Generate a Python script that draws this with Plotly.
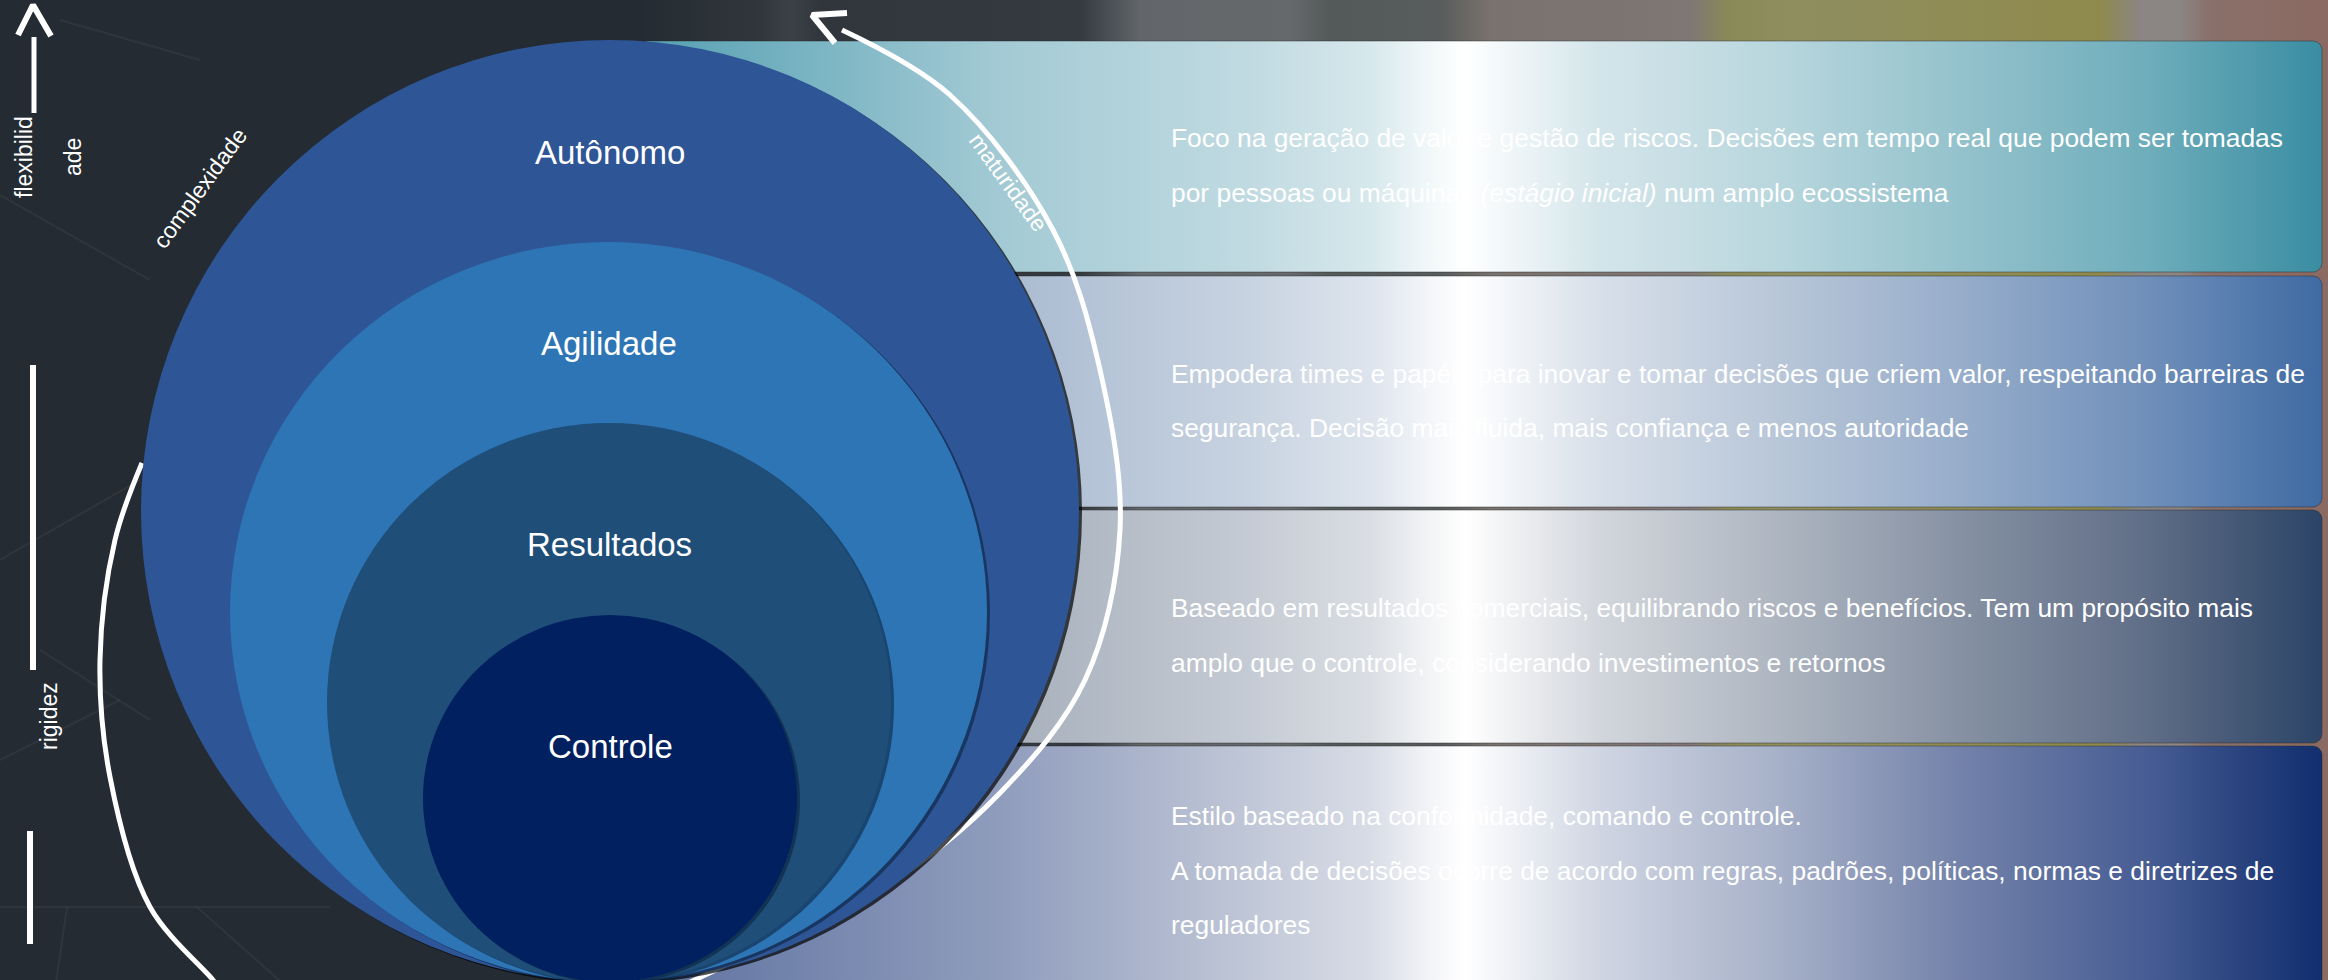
import plotly.graph_objects as go
import numpy as np

W, H = 2328, 980
FONT = "Liberation Sans, Arial, sans-serif"

# ---- data -------------------------------------------------------------
levels = ["Autônomo", "Agilidade", "Resultados", "Controle"]
level_colors = ["#2e5596", "#2e75b5", "#1f4e79", "#002060"]
ell_x0 = [141, 230, 327, 423]
ell_x1 = [1079, 987, 891, 797]
ell_y0 = [40, 242, 423, 615]
ell_y1 = [982, 982, 982, 982]
label_y = [152, 343, 544, 746]

panel_lines = [
    ["Foco na geração de valor e gestão de riscos. Decisões em tempo real que podem ser tomadas",
     "por pessoas ou máquinas <i>(estágio inicial)</i> num amplo ecossistema"],
    ["Empodera times e papéis para inovar e tomar decisões que criem valor, respeitando barreiras de",
     "segurança. Decisão mais fluida, mais confiança e menos autoridade"],
    ["Baseado em resultados comerciais, equilibrando riscos e benefícios. Tem um propósito mais",
     "amplo que o controle, considerando investimentos e retornos"],
    ["Estilo baseado na conformidade, comando e controle.",
     "A tomada de decisões ocorre de acordo com regras, padrões, políticas, normas e diretrizes de",
     "reguladores"],
]
panel_line_y = [[138, 193], [374, 428], [608, 663], [816, 871, 925]]
panel_y0 = [41, 276, 510, 746]
panel_y1 = [272, 507, 743, 995]
panel_x0, panel_x1 = 640, 2322
panel_grad = [
    [(640, "#55a0b3"), (1000, "#a3cad4"), (1250, "#c0dae1"), (1370, "#d6e8ec"), (1430, "#f2f8f9"),
     (1465, "#ffffff"), (1510, "#f0f6f8"), (1600, "#d3e5ea"), (1780, "#b8d6dd"), (1960, "#94c2cc"),
     (2150, "#6eadbb"), (2322, "#3a8da2")],
    [(640, "#8fa6c6"), (1000, "#a9bad0"), (1250, "#c8d3e1"), (1370, "#dde4ed"), (1430, "#f4f6f9"),
     (1465, "#ffffff"), (1510, "#f2f5f8"), (1600, "#d7dfe9"), (1780, "#b8c6d8"), (1960, "#97adca"),
     (2150, "#6f8fba"), (2322, "#3f6aa3")],
    [(640, "#8d97a6"), (1000, "#a6afbb"), (1250, "#c5cbd4"), (1370, "#dadee3"), (1430, "#f3f4f6"),
     (1465, "#ffffff"), (1510, "#f0f1f3"), (1600, "#d2d6dc"), (1780, "#adb5c0"), (1960, "#8691a3"),
     (2150, "#5f6d86"), (2322, "#2b4467")],
    [(640, "#5e72a0"), (1000, "#8f9cbc"), (1250, "#c0c7d7"), (1370, "#d8dce6"), (1430, "#f3f4f7"),
     (1465, "#ffffff"), (1510, "#eff1f5"), (1600, "#cfd5e2"), (1780, "#a6b0c8"), (1960, "#7382aa"),
     (2150, "#465c93"), (2322, "#112e6e")],
]
bg_grad = [(640, "#242b32"), (760, "#30363c"), (790, "#3c4146"), (820, "#30363c"), (1080, "#343a40"),
           (1140, "#62666a"), (1290, "#66696b"), (1330, "#545959"), (1440, "#585c5c"), (1490, "#79726d"),
           (1690, "#7f7675"), (1730, "#898a56"), (1790, "#8f8e60"), (2100, "#8f8a4c"), (2140, "#8b8583"),
           (2180, "#8b8583"), (2210, "#8a706a"), (2328, "#8a6a62")]

side_texts = [  # text, x, y, angle, size
    ("flexibilid", 24, 157, -90, 23),
    ("ade", 73, 157, -90, 23),
    ("complexidade", 200, 188, -54, 23),
    ("maturidade", 1008, 182, 54, 23),
    ("rigidez", 49, 716, -90, 23),
]
right_arc_x = [842, 950, 1053, 1100, 1120, 1085, 1000, 880, 757, 705, 670]
right_arc_y = [30, 95, 230, 370, 530, 680, 793, 890, 950, 975, 992]
left_arc_x = [142, 115, 100, 110, 150, 213, 222]
left_arc_y = [463, 540, 660, 777, 907, 980, 992]

# ---- helpers ----------------------------------------------------------
def rrect(x0, y0, x1, y1, r=9, n=8):
    xs, ys = [], []
    corners = [(x1 - r, y0 + r, -90), (x1 - r, y1 - r, 0), (x0 + r, y1 - r, 90), (x0 + r, y0 + r, 180)]
    for cx, cy, a0 in corners:
        for t in np.linspace(a0, a0 + 90, n):
            xs.append(cx + r * np.cos(np.radians(t)))
            ys.append(cy + r * np.sin(np.radians(t)))
    xs.append(xs[0]); ys.append(ys[0])
    return xs, ys


def scale(stops, a, b):
    return [[(x - a) / (b - a), c] for x, c in stops]


fig = go.Figure()

# background gradient behind panels
fig.add_trace(go.Scatter(x=[640, W, W, 640, 640], y=[0, 0, 1000, 1000, 0], mode="lines",
                         fill="toself", line=dict(width=0),
                         fillgradient=dict(type="horizontal", colorscale=scale(bg_grad, 640, W),
                                           start=640, stop=W),
                         hoverinfo="skip", showlegend=False))

# panels
for i in range(4):
    xs, ys = rrect(panel_x0, panel_y0[i], panel_x1, panel_y1[i])
    fig.add_trace(go.Scatter(x=xs, y=ys, mode="lines", fill="toself",
                             line=dict(width=1, color="rgba(40,40,40,0.45)"),
                             fillgradient=dict(type="horizontal",
                                               colorscale=scale(panel_grad[i], panel_x0, panel_x1),
                                               start=panel_x0, stop=panel_x1),
                             hoverinfo="skip", showlegend=False))

# white arcs
for ax, ay in [(left_arc_x, left_arc_y), (right_arc_x, right_arc_y)]:
    fig.add_trace(go.Scatter(x=ax, y=ay, mode="lines", line=dict(color="white", width=5, shape="spline",
                                                                  smoothing=1.0),
                             hoverinfo="skip", showlegend=False))
# arrow heads and bars
for xs, ys, w in [([847, 812, 835], [13, 15, 43], 6),
                  ([18, 33, 51], [35, 5, 36], 6),
                  ([34, 34], [37, 113], 5),
                  ([33, 33], [365, 670], 6),
                  ([30, 30], [831, 944], 6)]:
    fig.add_trace(go.Scatter(x=xs, y=ys, mode="lines", line=dict(color="white", width=w),
                             hoverinfo="skip", showlegend=False))

shapes = []
# faint network lines on the dark background
for x0, y0, x1, y1 in [(0, 195, 150, 280), (0, 907, 330, 907), (67, 907, 55, 990), (197, 907, 290, 990),
                       (0, 560, 140, 480), (40, 650, 150, 720), (60, 20, 200, 60), (0, 760, 120, 700)]:
    shapes.append(dict(type="line", xref="x", yref="y", x0=x0, y0=y0, x1=x1, y1=y1, layer="below",
                       line=dict(color="rgba(255,255,255,0.05)", width=2)))

# ellipses with soft shadow
for i in range(4):
    shapes.append(dict(type="circle", xref="x", yref="y", layer="above",
                       x0=ell_x0[i] + 3, x1=ell_x1[i] + 3, y0=ell_y0[i] + 2, y1=ell_y1[i] + 2,
                       fillcolor="rgba(0,0,0,0.7)" if i == 0 else "rgba(10,30,55,0.55)",
                       line=dict(width=0)))
    shapes.append(dict(type="circle", xref="x", yref="y", layer="above",
                       x0=ell_x0[i], x1=ell_x1[i], y0=ell_y0[i], y1=ell_y1[i],
                       fillcolor=level_colors[i], line=dict(width=0)))

annotations = []
for i, name in enumerate(levels):
    annotations.append(dict(text=name, x=(ell_x0[i] + ell_x1[i]) / 2, y=label_y[i], xref="x", yref="y",
                            showarrow=False, font=dict(family=FONT, size=33, color="white"),
                            xanchor="center", yanchor="middle"))
for lines, ys in zip(panel_lines, panel_line_y):
    for t, y in zip(lines, ys):
        annotations.append(dict(text=t, x=1169, y=y, xref="x", yref="y", showarrow=False,
                                font=dict(family=FONT, size=26.4, color="white"),
                                xanchor="left", yanchor="middle"))
for t, x, y, ang, s in side_texts:
    annotations.append(dict(text=t, x=x, y=y, xref="x", yref="y", showarrow=False, textangle=ang,
                            font=dict(family=FONT, size=s, color="white"),
                            xanchor="center", yanchor="middle"))

fig.update_layout(
    width=W, height=H, margin=dict(l=0, r=0, t=0, b=0),
    paper_bgcolor="#242b32", plot_bgcolor="#242b32",
    xaxis=dict(range=[0, W], visible=False, fixedrange=True),
    yaxis=dict(range=[H, 0], visible=False, fixedrange=True),
    shapes=shapes, annotations=annotations, showlegend=False,
)

fig.write_html("out.html", config={"displayModeBar": False},
               post_script="document.body.style.margin='0px';")
